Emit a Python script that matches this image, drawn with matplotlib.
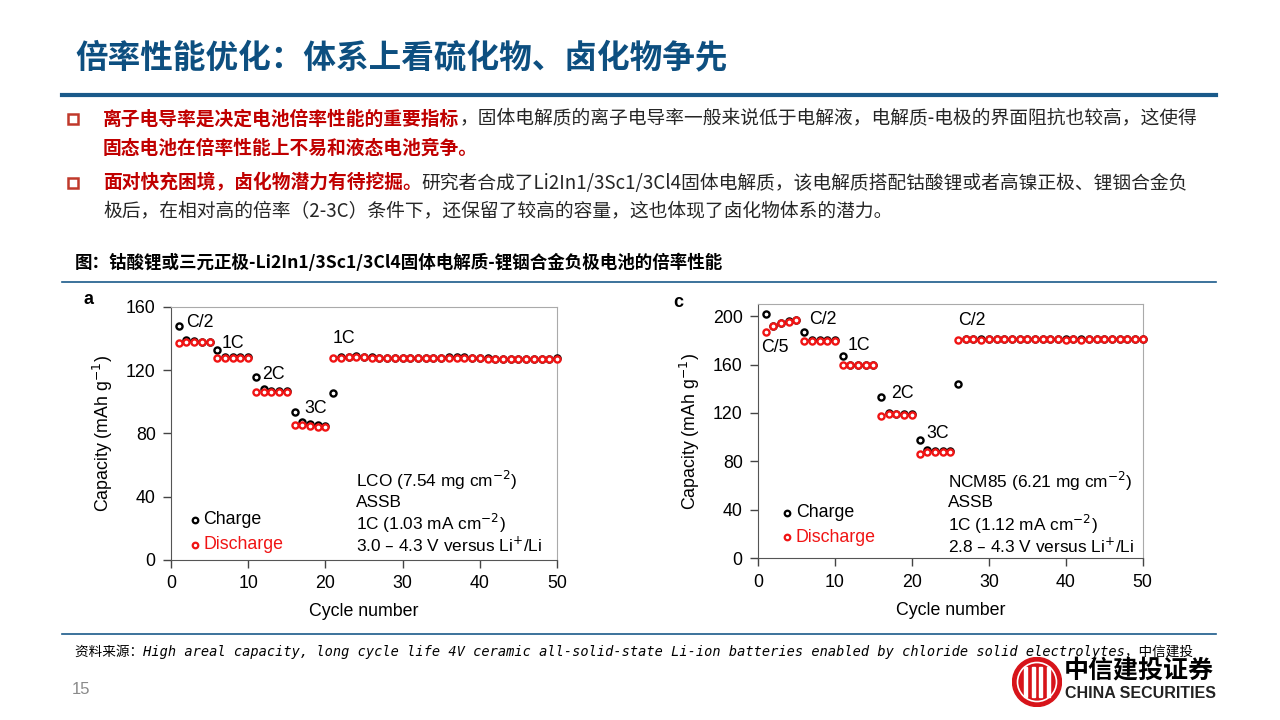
import numpy as np
import matplotlib
matplotlib.use("Agg")
import matplotlib.pyplot as plt
from matplotlib.patches import Circle, Rectangle

plt.rcParams['font.family'] = ['Liberation Sans', 'Noto Sans CJK SC', 'DejaVu Sans']

# ---- data ----
cycles = np.arange(1, 51)

lco_charge = [147.8, 139.0, 138.2, 138.0, 138.0, 132.4, 128.2, 128.0, 128.0, 128.0,
              115.4, 107.8, 107.0, 106.8, 106.6, 93.5, 87.2, 86.0, 85.0, 84.8,
              105.5, 128.0, 128.2, 128.6, 128.3, 128.1, 127.9, 127.8, 127.7, 127.7,
              127.7, 127.7, 127.6, 127.7, 127.8, 128.0, 128.1, 128.0, 127.8, 127.6,
              127.4, 127.2, 127.0, 126.9, 127.0, 127.0, 127.0, 127.1, 127.2, 127.4]
lco_discharge = [137.3, 137.6, 137.5, 137.5, 137.6, 127.6, 127.8, 127.6, 127.6, 127.6,
                 106.3, 106.3, 106.0, 106.0, 106.0, 85.5, 85.0, 84.6, 84.2, 84.2,
                 127.6, 127.8, 128.0, 128.4, 128.1, 127.9, 127.7, 127.6, 127.5, 127.5,
                 127.5, 127.5, 127.4, 127.5, 127.6, 127.8, 127.9, 127.8, 127.6, 127.4,
                 127.2, 127.0, 126.8, 126.7, 126.8, 126.8, 126.8, 126.9, 127.0, 127.2]

ncm_charge = [201.6, 192.0, 194.3, 195.6, 196.8, 187.0, 180.0, 180.0, 180.0, 180.0,
              167.0, 160.0, 160.0, 160.0, 160.0, 132.9, 120.2, 119.2, 119.0, 119.0,
              97.4, 89.4, 88.2, 88.2, 88.2, 143.6, 181.0, 181.0, 181.0, 181.0,
              181.0, 181.0, 181.0, 181.0, 181.0, 181.0, 181.0, 181.0, 181.0, 181.0,
              181.0, 181.0, 181.0, 181.0, 181.0, 181.0, 181.0, 181.0, 181.0, 181.0]
ncm_discharge = [186.8, 191.5, 193.9, 195.3, 196.4, 179.4, 179.6, 179.6, 179.6, 179.6,
                 159.6, 159.6, 159.6, 159.6, 159.6, 117.5, 118.8, 118.8, 118.6, 118.6,
                 86.1, 87.8, 87.8, 87.8, 87.8, 180.6, 180.7, 180.7, 180.6, 180.7,
                 180.8, 180.7, 180.7, 180.7, 180.7, 180.7, 180.7, 180.7, 180.7, 180.6,
                 180.7, 180.6, 180.7, 180.7, 180.7, 180.7, 180.7, 180.7, 180.8, 180.8]

lco_rates = ["C/2", "1C", "2C", "3C", "1C"]
lco_rate_xy = [(2.0, 150), (6.6, 137), (11.8, 117), (17.3, 96), (21.0, 140)]
ncm_rates = ["C/2", "C/5", "1C", "2C", "3C", "C/2"]
ncm_rate_xy = [(6.7, 197), (0.4, 174), (11.7, 176), (17.3, 136), (21.9, 103), (26.0, 196)]

lco_info = ["LCO (7.54 mg cm$^{-2}$)", "ASSB", "1C (1.03 mA cm$^{-2}$)",
            "3.0 – 4.3 V versus Li$^{+}$/Li"]
ncm_info = ["NCM85 (6.21 mg cm$^{-2}$)", "ASSB", "1C (1.12 mA cm$^{-2}$)",
            "2.8 – 4.3 V versus Li$^{+}$/Li"]

W, H = 1280, 720
fig = plt.figure(figsize=(12.8, 7.2), dpi=100)
fig.patch.set_facecolor('white')


def fx(x):
    return x / W


def fy(y):
    return 1 - y / H


RED = '#f01414'
BLUE = '#1a5a8a'
DRED = '#c00000'
GREY = '#262626'
CJK = ['Noto Sans CJK SC', 'DejaVu Sans']

# ---- header ----
fig.text(fx(75), fy(58), "倍率性能优化：体系上看硫化物、卤化物争先", fontsize=23.5,
         fontweight='bold', color='#0d4f80', family=CJK, va='center')
fig.add_artist(plt.Line2D([fx(62), fx(1216)], [fy(95), fy(95)], color=BLUE, lw=3))

renderer = fig.canvas.get_renderer()


def runs(x, y, parts, fs=13.5):
    # write coloured pieces one after another on the same line
    for s, col, wt in parts:
        t = fig.text(fx(x), fy(y), s, fontsize=fs, color=col, fontweight=wt,
                     family=CJK, va='center')
        x = t.get_window_extent(renderer).x1


for by in (119, 183):
    fig.add_artist(Rectangle((fx(68), fy(by + 5)), fx(10), 10 / H, transform=fig.transFigure,
                             fill=False, ec='#c0392b', lw=1.8))

runs(103, 119, [("离子电导率是决定电池倍率性能的重要指标", DRED, 'bold'),
                ("，固体电解质的离子电导率一般来说低于电解液，电解质-电极的界面阻抗也较高，这使得", GREY, 'normal')])
runs(103, 148, [("固态电池在倍率性能上不易和液态电池竞争。", DRED, 'bold')])
runs(103, 183, [("面对快充困境，卤化物潜力有待挖掘。", DRED, 'bold'),
                ("研究者合成了Li2In1/3Sc1/3Cl4固体电解质，该电解质搭配钴酸锂或者高镍正极、锂铟合金负", GREY, 'normal')])
runs(103, 212, [("极后，在相对高的倍率（2-3C）条件下，还保留了较高的容量，这也体现了卤化物体系的潜力。", GREY, 'normal')])

fig.text(fx(75), fy(263), "图：钴酸锂或三元正极-Li2In1/3Sc1/3Cl4固体电解质-锂铟合金负极电池的倍率性能",
         fontsize=12.6, fontweight='bold', color='black', family=CJK, va='center')
fig.add_artist(plt.Line2D([fx(62), fx(1216)], [fy(282), fy(282)], color=BLUE, lw=1.2))

# ---- footer ----
fig.add_artist(plt.Line2D([fx(62), fx(1216)], [fy(634), fy(634)], color=BLUE, lw=1.2))
fig.text(fx(75), fy(652), "资料来源：High areal capacity, long cycle life 4V ceramic all-solid-state "
         "Li-ion batteries enabled by chloride solid electrolytes，中信建投",
         fontsize=9.8, style='italic', family=['DejaVu Sans Mono', 'Noto Sans CJK SC'],
         color='black', va='center')
fig.text(fx(72), fy(690), "15", fontsize=12, color='#8a8a8a', va='center')

# logo
lax = fig.add_axes([fx(1012), fy(707), 50 / W, 50 / H])
lax.set_xlim(-1, 1)
lax.set_ylim(-1, 1)
lax.set_aspect('equal')
lax.axis('off')
lax.add_patch(Circle((0, 0), 0.98, color='#d7141a'))
lax.add_patch(Circle((0, 0), 0.78, fill=False, ec='white', lw=1.2))
for xx in (-0.45, -0.15, 0.15, 0.45):
    lax.add_patch(Rectangle((xx - 0.06, -0.6), 0.12, 1.2, color='white'))
fig.text(fx(1064), fy(671), "中信建投证券", fontsize=18, fontweight='bold', family=CJK,
         color='black', va='center')
fig.text(fx(1065), fy(693), "CHINA SECURITIES", fontsize=11.5, fontweight='bold',
         color='#222222', va='center')


# ---- charts ----
def build(rect, ylim, yticks, charge, discharge, rates, rate_xy, leg_xy, info, info_x, info_y):
    ax = fig.add_axes(rect)
    ax.plot(cycles, charge, 'o', ms=4.4, mfc='white', mec='black', mew=1.7, clip_on=False, zorder=3)
    ax.plot(cycles, discharge, 'o', ms=4.4, mfc='white', mec=RED, mew=1.7, clip_on=False, zorder=4)
    ax.set_xlim(0, 50)
    ax.set_ylim(*ylim)
    ax.set_xticks([0, 10, 20, 30, 40, 50])
    ax.set_yticks(yticks)
    ax.tick_params(direction='out', length=6, width=1, labelsize=12.8, color='#444444', pad=5)
    for s in ('left', 'bottom'):
        ax.spines[s].set_color('#555555')
    for s in ('top', 'right'):
        ax.spines[s].set_color('#aaaaaa')
    ax.set_xlabel("Cycle number", fontsize=12.8, labelpad=8)
    ax.set_ylabel("Capacity (mAh g$^{-1}$)", fontsize=12.8, labelpad=8)
    for lab, (x, y) in zip(rates, rate_xy):
        ax.text(x, y, lab, fontsize=12.8, va='center', ha='left')
    lx, ly1, ly2 = leg_xy
    ax.plot([lx], [ly1], 'o', ms=4, mfc='white', mec='black', mew=1.6)
    ax.plot([lx], [ly2], 'o', ms=4, mfc='white', mec=RED, mew=1.6)
    ax.text(lx + 1.1, ly1, "Charge", fontsize=12.8, va='center')
    ax.text(lx + 1.1, ly2, "Discharge", fontsize=12.8, va='center', color=RED)
    for txt, y in zip(info, info_y):
        ax.text(info_x, y, txt, fontsize=12.4, va='center', ha='left')
    return ax


ax1 = build([fx(171), fy(560), 386 / W, 253.3 / H], (0, 160), [0, 40, 80, 120, 160],
            lco_charge, lco_discharge, lco_rates, lco_rate_xy, (3.1, 25.3, 9.5),
            lco_info, 24, [50.1, 36.4, 23.2, 9.5])
ax2 = build([fx(758), fy(558.3), 384.7 / W, 254.3 / H], (0, 210), [0, 40, 80, 120, 160, 200],
            ncm_charge, ncm_discharge, ncm_rates, ncm_rate_xy, (3.8, 37.7, 17.3),
            ncm_info, 24.7, [63.8, 46.2, 28.1, 10.2])

fig.text(fx(84), fy(299), "a", fontsize=13, fontweight='bold', va='center')
fig.text(fx(673), fy(302), "c", fontsize=13, fontweight='bold', va='center')

fig.savefig("out.png", dpi=100)
